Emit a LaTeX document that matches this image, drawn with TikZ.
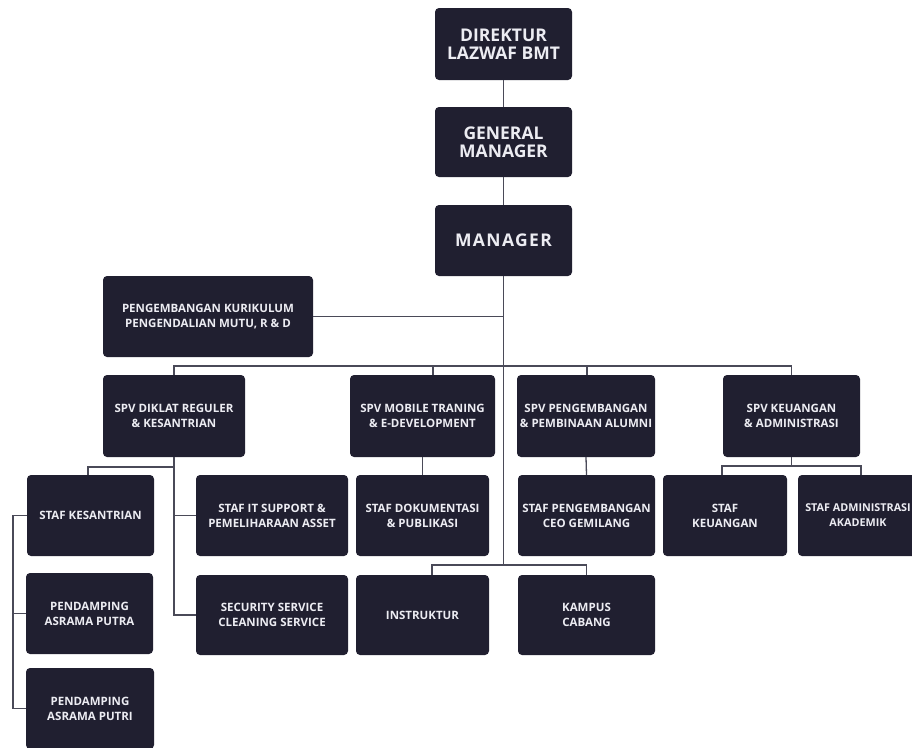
\documentclass[tikz,border=0pt]{standalone}
\usepackage{fontspec}
\setmainfont{Open Sans}
\definecolor{boxfill}{HTML}{201F30}
\definecolor{linec}{HTML}{4A4A58}
\definecolor{txt}{HTML}{ECECF2}
\begin{document}
\begin{tikzpicture}[x=1pt,y=-1pt,
 box/.style={fill=boxfill, rounded corners=4pt, text=txt, font=\bfseries\fontsize{11.5}{15}\selectfont, align=center, inner sep=0pt},
 bigbox/.style={box, font=\bfseries\fontsize{17.5}{18}\selectfont},
 conn/.style={draw=linec, line width=1.3pt}]
\useasboundingbox (0,0) rectangle (912,747);
% top chain
\node[bigbox, minimum width=137, minimum height=72] (dir) at (503.5,44) {DIREKTUR\\LAZWAF BMT};
\node[bigbox, minimum width=137, minimum height=70] (gm) at (503.5,142) {GENERAL\\MANAGER};
\node[bigbox, minimum width=137, minimum height=71] (mgr) at (503.5,240.5) {\addfontfeatures{LetterSpace=8}MANAGER};
\node[box, minimum width=210, minimum height=81] (kur) at (208,316.5) {PENGEMBANGAN KURIKULUM\\PENGENDALIAN MUTU, R \& D};
% spv
\node[box, minimum width=142, minimum height=82] (spva) at (174,416) {SPV DIKLAT REGULER\\\& KESANTRIAN};
\node[box, minimum width=145, minimum height=82] (spvb) at (422.5,416) {SPV MOBILE TRANING\\\& E-DEVELOPMENT};
\node[box, minimum width=138, minimum height=82] (spvc) at (586,416) {SPV PENGEMBANGAN\\\& PEMBINAAN ALUMNI};
\node[box, minimum width=137, minimum height=82] (spvd) at (791.5,416) {SPV KEUANGAN\\\& ADMINISTRASI};
% staff row 1
\node[box, minimum width=127, minimum height=81] (kes) at (90.5,515.5) {STAF KESANTRIAN};
\node[box, minimum width=152, minimum height=81] (it) at (272,515.5) {STAF IT SUPPORT \&\\PEMELIHARAAN ASSET};
\node[box, minimum width=133, minimum height=81] (dok) at (422.5,515.5) {STAF DOKUMENTASI\\\& PUBLIKASI};
\node[box, minimum width=137, minimum height=81] (ceo) at (586.5,515.5) {STAF PENGEMBANGAN\\CEO GEMILANG};
\node[box, minimum width=124, minimum height=81] (keu) at (725,515.5) {STAF\\KEUANGAN};
\node[box, minimum width=120, minimum height=81, font=\bfseries\fontsize{10.8}{15}\selectfont] (adm) at (858,515.5) {STAF ADMINISTRASI\\AKADEMIK};
% staff row 2
\node[box, minimum width=127, minimum height=81] (putra) at (89.5,613.5) {PENDAMPING\\ASRAMA PUTRA};
\node[box, minimum width=152, minimum height=80] (sec) at (272,615) {SECURITY SERVICE\\CLEANING SERVICE};
\node[box, minimum width=133, minimum height=80] (ins) at (422.5,615) {INSTRUKTUR};
\node[box, minimum width=137, minimum height=80] (kam) at (586.5,615) {KAMPUS\\CABANG};
\node[box, minimum width=128, minimum height=81] (putri) at (90,708.5) {PENDAMPING\\ASRAMA PUTRI};
% connectors
\coordinate (bus) at (0,366);
\coordinate (insbus) at (0,565);
\coordinate (abus) at (0,467);
\coordinate (dbus) at (0,466);
\coordinate (rail) at (13,0);
\draw[conn] (dir) -- (gm);
\draw[conn] (gm) -- (mgr);
\draw[conn] (mgr.south) -- (mgr.south |- insbus);
\draw[conn] (kur.east) -- (kur.east -| mgr.south);
\draw[conn] (spva.north) -- (spva.north |- bus) -- (spvd.north |- bus) -- (spvd.north);
\draw[conn] ([xshift=10.5pt]spvb.north) -- ([xshift=10.5pt]spvb.north |- bus);
\draw[conn] ([xshift=1pt]spvc.north) -- ([xshift=1pt]spvc.north |- bus);
% spv a children
\draw[conn] (spva.south) -- (spva.south |- sec.west) -- (sec.west);
\draw[conn] (it.west) -- (it.west -| spva.south);
\draw[conn] (spva.south |- abus) -- ([xshift=-2.5pt]kes.north |- abus) -- ([xshift=-2.5pt]kes.north);
\draw[conn] (kes.west) -- (kes.west -| rail) -- (putri.west -| rail) -- (putri.west);
\draw[conn] (putra.west) -- (putra.west -| rail);
% spv b,c
\draw[conn] (spvb.south) -- (dok.north);
\draw[conn] (spvc.south) -- (ceo.north);
% spv d
\draw[conn] (spvd.south) -- (spvd.south |- dbus);
\draw[conn] ([xshift=-3pt]keu.north) -- ([xshift=-3pt]keu.north |- dbus) -- ([xshift=3pt]adm.north |- dbus) -- ([xshift=3pt]adm.north);
% instruktur / kampus
\draw[conn] ([xshift=9.5pt]ins.north) -- ([xshift=9.5pt]ins.north |- insbus) -- (kam.north |- insbus) -- (kam.north);
\end{tikzpicture}
\end{document}
